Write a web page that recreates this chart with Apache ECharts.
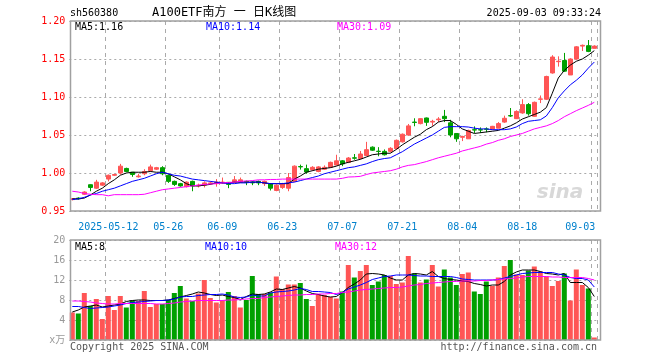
<!DOCTYPE html>
<html><head><meta charset="utf-8">
<script src="https://cdn.jsdelivr.net/npm/echarts@6/dist/echarts.min.js"></script>
<style>html,body{margin:0;padding:0;background:#fff}#c{width:660px;height:360px}</style>
</head><body><div id="c"></div>
<script>
const dates = ['2025-04-29','2025-04-30','2025-05-06','2025-05-07','2025-05-08','2025-05-09',
'2025-05-12','2025-05-13','2025-05-14','2025-05-15','2025-05-16','2025-05-19','2025-05-20','2025-05-21','2025-05-22','2025-05-23',
'2025-05-26','2025-05-27','2025-05-28','2025-05-29','2025-05-30','2025-06-03','2025-06-04','2025-06-05','2025-06-06',
'2025-06-09','2025-06-10','2025-06-11','2025-06-12','2025-06-13','2025-06-16','2025-06-17','2025-06-18','2025-06-19','2025-06-20',
'2025-06-23','2025-06-24','2025-06-25','2025-06-26','2025-06-27','2025-06-30','2025-07-01','2025-07-02','2025-07-03','2025-07-04',
'2025-07-07','2025-07-08','2025-07-09','2025-07-10','2025-07-11','2025-07-14','2025-07-15','2025-07-16','2025-07-17','2025-07-18',
'2025-07-21','2025-07-22','2025-07-23','2025-07-24','2025-07-25','2025-07-28','2025-07-29','2025-07-30','2025-07-31','2025-08-01',
'2025-08-04','2025-08-05','2025-08-06','2025-08-07','2025-08-08','2025-08-11','2025-08-12','2025-08-13','2025-08-14','2025-08-15',
'2025-08-18','2025-08-19','2025-08-20','2025-08-21','2025-08-22','2025-08-25','2025-08-26','2025-08-27','2025-08-28','2025-08-29',
'2025-09-01','2025-09-02','2025-09-03'];
const labelDates = ['2025-05-12','2025-05-26','2025-06-09','2025-06-23','2025-07-07','2025-07-21','2025-08-04','2025-08-18','2025-09-03'];

const opens = [0.965,0.967,0.972,0.9846,0.980,0.984,0.992,0.997,1.000,1.006,
1.001,0.995,0.999,1.003,1.005,1.007,0.997,0.989,0.986,0.982,
0.989,0.983,0.984,0.986,0.986,0.987,0.9877,0.988,0.988,0.989,
0.988,0.989,0.986,0.986,0.977,0.981,0.980,0.989,1.0085,1.0057,
1.0044,1.002,1.005,1.0075,1.0105,1.016,1.014,1.020,1.019,1.023,
1.034,1.0287,1.0285,1.0285,1.032,1.041,1.050,1.067,1.065,1.0724,
1.067,1.070,1.0746,1.066,1.052,1.047,1.045,1.057,1.057,1.058,
1.058,1.059,1.067,1.0755,1.0715,1.079,1.090,1.0746,1.097,1.097,
1.1316,1.1465,1.148,1.129,1.150,1.167,1.1675,1.164];
const closes = [0.966,0.966,0.975,0.981,0.988,0.987,0.997,0.998,1.009,1.002,
0.998,0.996,1.002,1.008,1.007,0.999,0.989,0.985,0.983,0.988,
0.983,0.984,0.987,0.987,0.988,0.988,0.985,0.991,0.991,0.988,
0.987,0.987,0.989,0.980,0.984,0.986,0.994,1.009,1.008,1.0013,
1.0075,1.008,1.0075,1.014,1.016,1.012,1.0197,1.0195,1.025,1.0307,
1.030,1.0283,1.024,1.0325,1.043,1.051,1.062,1.0665,1.0715,1.0667,
1.068,1.071,1.0715,1.050,1.045,1.048,1.056,1.0565,1.0565,1.0575,
1.0614,1.065,1.072,1.075,1.081,1.090,1.078,1.093,1.0975,1.127,
1.1526,1.147,1.134,1.150,1.166,1.168,1.160,1.167];
const lows = [0.964,0.965,0.971,0.976,0.979,0.983,0.989,0.996,0.998,1.001,
0.995,0.994,0.997,1.002,1.004,0.997,0.987,0.983,0.982,0.981,
0.976,0.981,0.981,0.985,0.982,0.986,0.980,0.987,0.987,0.984,
0.984,0.984,0.983,0.977,0.976,0.979,0.976,0.988,1.0045,0.999,
1.003,1.001,1.004,1.007,1.010,1.009,1.013,1.0175,1.018,1.022,
1.029,1.022,1.023,1.027,1.031,1.040,1.049,1.0615,1.064,1.062,
1.062,1.067,1.067,1.047,1.041,1.042,1.045,1.0526,1.0526,1.0535,
1.057,1.059,1.066,1.0737,1.071,1.078,1.0755,1.074,1.092,1.096,
1.1307,1.140,1.133,1.129,1.149,1.1605,1.159,1.164];
const highs = [0.967,0.968,0.976,0.985,0.991,0.988,0.998,0.999,1.012,1.007,
1.001,0.999,1.005,1.011,1.008,1.009,0.998,0.990,0.987,0.989,
0.990,0.986,0.989,0.989,0.992,0.994,0.988,0.996,0.994,0.990,
0.989,0.990,0.990,0.986,0.985,0.987,1.000,1.010,1.011,1.011,
1.009,1.009,1.010,1.015,1.024,1.017,1.021,1.025,1.029,1.041,
1.035,1.034,1.031,1.034,1.044,1.052,1.0645,1.072,1.072,1.073,
1.070,1.0735,1.083,1.070,1.052,1.049,1.057,1.0614,1.060,1.060,
1.062,1.067,1.0755,1.0855,1.0825,1.097,1.092,1.094,1.102,1.128,
1.155,1.1535,1.158,1.151,1.167,1.169,1.175,1.168];

const ma5 = [0.966,0.966,0.967,0.971,0.976,0.980,0.986,0.991,0.997,1.000,
1.001,1.001,1.001,1.002,1.001,1.001,0.999,0.995,0.991,0.986,
0.983,0.983,0.984,0.985,0.987,0.987,0.987,0.988,0.988,0.988,
0.988,0.988,0.987,0.986,0.986,0.986,0.986,0.992,0.996,1.001,
1.003,1.005,1.006,1.007,1.009,1.012,1.014,1.016,1.018,1.021,
1.024,1.025,1.026,1.026,1.031,1.037,1.042,1.047,1.051,1.057,
1.061,1.067,1.069,1.069,1.064,1.058,1.055,1.052,1.053,1.054,
1.055,1.056,1.059,1.062,1.066,1.071,1.074,1.077,1.080,1.086,
1.105,1.125,1.135,1.142,1.147,1.150,1.155,1.161];
const ma10 = [0.965,0.966,0.968,0.971,0.973,0.976,0.978,0.980,0.983,0.986,
0.989,0.991,0.993,0.996,0.999,1.001,0.999,0.997,0.996,0.994,
0.992,0.991,0.990,0.989,0.988,0.987,0.986,0.986,0.987,0.987,
0.988,0.988,0.987,0.986,0.986,0.986,0.987,0.988,0.990,0.992,
0.994,0.996,0.999,1.001,1.003,1.005,1.007,1.008,1.010,1.012,
1.015,1.0175,1.019,1.020,1.024,1.028,1.033,1.038,1.042,1.046,
1.050,1.055,1.060,1.061,1.061,1.061,1.0605,1.059,1.058,1.058,
1.057,1.057,1.057,1.058,1.0605,1.065,1.068,1.069,1.070,1.075,
1.086,1.099,1.108,1.116,1.122,1.129,1.138,1.146];
const ma30 = [0.976,0.975,0.973,0.972,0.9715,0.9715,0.970,0.9715,0.9715,0.9715,
0.9715,0.9715,0.972,0.974,0.976,0.978,0.979,0.980,0.981,0.982,
0.983,0.984,0.985,0.9855,0.986,0.987,0.9875,0.988,0.989,0.9895,
0.990,0.991,0.991,0.9915,0.9915,0.992,0.992,0.992,0.992,0.992,
0.992,0.992,0.992,0.992,0.992,0.993,0.9947,0.995,0.9956,0.998,
1.000,1.001,1.002,1.003,1.005,1.008,1.010,1.011,1.013,1.015,
1.0175,1.020,1.022,1.024,1.026,1.029,1.031,1.033,1.035,1.038,
1.040,1.043,1.045,1.048,1.050,1.052,1.055,1.058,1.060,1.062,
1.065,1.069,1.074,1.078,1.082,1.0855,1.089,1.093];

const volumes = [5.5,5.3,9.4,6.8,8.2,4.2,8.8,6.0,8.8,6.5,
7.9,7.8,9.8,6.6,7.2,7.2,8.0,9.4,10.8,8.3,
7.8,9.3,12.0,8.4,7.5,8.0,9.6,8.8,6.5,8.0,
12.8,9.2,9.2,9.5,12.7,10.2,11.1,11.1,11.4,8.2,
6.8,9.2,9.0,8.6,8.3,9.7,15.0,12.5,13.8,15.0,
11.0,11.7,13.0,12.8,11.2,11.5,16.8,13.3,11.5,12.1,
15.0,10.7,14.1,12.5,11.0,13.2,13.5,9.7,9.2,11.7,
10.8,12.5,14.8,16.0,13.1,13.0,13.9,14.7,13.7,12.7,
10.8,11.8,13.3,7.9,14.1,11.0,10.3,0.5];
const vma5 = [5.6,6.0,6.6,6.8,7.0,6.6,6.8,7.0,7.2,7.7,
7.9,8.0,8.0,7.9,7.9,7.9,8.0,8.3,8.6,8.9,
9.2,9.6,9.4,9.1,8.9,9.0,8.7,8.5,8.1,8.7,
9.2,9.1,9.2,9.6,10.2,10.1,10.4,10.7,10.4,9.8,
9.3,9.1,8.8,8.6,8.7,9.5,10.5,11.2,12.0,13.2,
13.3,13.2,13.0,12.4,12.0,12.0,13.0,13.3,13.2,13.0,
13.7,12.7,12.3,12.1,12.0,11.8,11.7,11.3,11.1,10.8,
11.0,11.0,11.7,13.0,13.6,14.0,14.0,14.0,13.7,13.3,
13.2,13.0,13.3,11.5,11.5,11.5,10.5,8.7];
const vma10 = [6.7,6.7,6.5,6.3,6.4,6.5,6.6,6.8,7.0,7.3,
7.5,7.6,7.7,7.8,7.9,7.9,8.0,8.2,8.6,8.7,
8.7,8.9,9.0,9.1,9.1,9.2,9.0,8.6,8.5,8.6,
9.0,8.8,8.8,9.4,9.6,9.7,9.8,10.0,10.3,10.1,
9.7,9.7,9.6,9.5,9.1,9.5,10.2,10.6,11.0,11.5,
12.1,12.4,12.7,12.8,13.0,13.0,13.0,12.9,12.8,12.8,
12.7,12.7,12.7,12.7,12.5,12.2,12.1,12.0,12.0,12.0,
12.0,12.1,12.4,12.7,13.0,13.3,13.4,13.5,13.5,13.5,
13.5,13.2,13.0,12.5,12.3,12.3,12.0,10.6];
const vma30 = [7.8,7.8,7.7,7.6,7.4,7.3,7.2,7.2,7.3,7.3,
7.3,7.3,7.3,7.3,7.2,7.2,7.3,7.4,7.6,7.7,
7.8,7.9,7.9,7.9,7.9,7.9,8.0,8.0,8.1,8.2,
8.3,8.3,8.5,8.6,8.7,8.8,8.9,9.0,9.0,9.1,
9.1,9.2,9.2,9.3,9.3,9.5,9.6,9.8,10.0,10.1,
10.2,10.3,10.4,10.5,10.5,10.6,10.8,11.0,11.1,11.3,
11.4,11.5,11.6,11.7,11.7,11.8,11.8,11.8,11.9,11.9,
12.0,12.1,12.2,12.3,12.4,12.6,12.7,12.7,12.7,12.7,
12.6,12.6,12.5,12.5,12.5,12.5,12.3,12.0];

const priceTicks = {min: 0.95, max: 1.20, step: 0.05};
const volTicks = {min: 0, max: 20, step: 4};
const legendPrice = ['MA5:1.16', 'MA10:1.14', 'MA30:1.09'];
const legendVol = ['MA5:8', 'MA10:10', 'MA30:12'];

const RED = '#ff5555', GREEN = '#00a000';
const MONO = '"DejaVu Sans Mono", "Liberation Mono", monospace';
const candleData = opens.map((o, i) => [o, closes[i], lows[i], highs[i]]);
const isLabel = (idx, val) => labelDates.indexOf(val) >= 0;

const chart = echarts.init(document.getElementById('c'), null, {renderer: 'canvas'});
const gridL = 69.3, gridW = 528;
function xAxisCommon(gi, showLabels) {
  return {
    type: 'category', gridIndex: gi, data: dates, boundaryGap: true,
    axisLine: {show: false}, axisTick: {show: false},
    axisLabel: {
      show: showLabels, interval: isLabel, color: '#0080cc', fontFamily: MONO, fontSize: 10, margin: 11,
      formatter: v => v === '2025-05-12' ? v : (v === dates[dates.length - 1] ? '{r|' + v.slice(5) + '}' : v.slice(5)),
      rich: {r: {color: '#0080cc', fontFamily: MONO, fontSize: 10, padding: [0, 28, 0, 0]}}
    },
    splitLine: {show: true, interval: isLabel, lineStyle: {color: '#aaaaaa', type: [4, 4], width: 1}}
  };
}
const txt = (x, y, s, color, size, align) => ({type: 'text', x, y, z: 200,
  style: {text: s, fill: color, font: (size || 10) + 'px ' + MONO + ', "Noto Sans CJK SC"', textAlign: align || 'left', textVerticalAlign: 'middle'}});

chart.setOption({
  animation: false,
  backgroundColor: '#fff',
  grid: [
    {left: gridL, width: gridW, top: 21, height: 190},
    {left: gridL, width: gridW, top: 240, height: 100}
  ],
  xAxis: [xAxisCommon(0, true), xAxisCommon(1, false)],
  yAxis: [
    {type: 'value', gridIndex: 0, min: priceTicks.min, max: priceTicks.max, interval: priceTicks.step,
     axisLine: {show: false}, axisTick: {show: false},
     axisLabel: {color: '#ff0000', fontFamily: MONO, fontSize: 10, margin: 4, formatter: v => v.toFixed(2)},
     splitLine: {show: true, lineStyle: {color: '#aaaaaa', type: [2, 3], width: 1}}},
    {type: 'value', gridIndex: 1, min: volTicks.min, max: volTicks.max, interval: volTicks.step,
     axisLine: {show: false}, axisTick: {show: false},
     axisLabel: {color: '#999999', fontFamily: MONO + ', "Noto Sans CJK SC"', fontSize: 10, margin: 4, formatter: v => v === 0 ? 'x万' : String(v)},
     splitLine: {show: true, lineStyle: {color: '#aaaaaa', type: [2, 3], width: 1}}}
  ],
  series: [
    {type: 'candlestick', xAxisIndex: 0, yAxisIndex: 0, data: candleData, barWidth: 5,
     itemStyle: {color: RED, color0: GREEN, borderColor: RED, borderColor0: GREEN, borderWidth: 1}},
    {type: 'line', xAxisIndex: 0, yAxisIndex: 0, data: ma5, symbol: 'none', lineStyle: {color: '#000', width: 1}},
    {type: 'line', xAxisIndex: 0, yAxisIndex: 0, data: ma10, symbol: 'none', lineStyle: {color: '#0000ff', width: 1}},
    {type: 'line', xAxisIndex: 0, yAxisIndex: 0, data: ma30, symbol: 'none', lineStyle: {color: '#ff00ff', width: 1}},
    {type: 'bar', xAxisIndex: 1, yAxisIndex: 1, data: volumes, barWidth: 5,
     itemStyle: {color: p => closes[p.dataIndex] >= opens[p.dataIndex] ? RED : GREEN}},
    {type: 'line', xAxisIndex: 1, yAxisIndex: 1, data: vma5, symbol: 'none', lineStyle: {color: '#000', width: 1}},
    {type: 'line', xAxisIndex: 1, yAxisIndex: 1, data: vma10, symbol: 'none', lineStyle: {color: '#0000ff', width: 1}},
    {type: 'line', xAxisIndex: 1, yAxisIndex: 1, data: vma30, symbol: 'none', lineStyle: {color: '#ff00ff', width: 1}}
  ],
  graphic: [
    {type: 'rect', z: 150, shape: {x: 70.5, y: 21, width: 530, height: 190}, style: {fill: 'none', stroke: '#a0a0a0', lineWidth: 1.5}},
    {type: 'rect', z: 150, shape: {x: 70.5, y: 240, width: 530, height: 100}, style: {fill: 'none', stroke: '#a0a0a0', lineWidth: 1.5}},
    txt(70, 13, 'sh560380', '#000', 10),
    txt(152, 13, 'A100ETF南方 一 日K线图', '#000', 12),
    txt(601, 13, '2025-09-03 09:33:24', '#000', 10, 'right'),
    txt(75, 27, legendPrice[0], '#000', 10),
    txt(206, 27, legendPrice[1], '#0000ff', 10),
    txt(337, 27, legendPrice[2], '#ff00ff', 10),
    txt(75, 247, legendVol[0], '#000', 10),
    txt(205, 247, legendVol[1], '#0000ff', 10),
    txt(335, 247, legendVol[2], '#ff00ff', 10),
    txt(70, 347, 'Copyright 2025 SINA.COM', '#555', 10),
    txt(597, 347, 'http://finance.sina.com.cn', '#555', 10, 'right'),
    {type: 'text', x: 560, y: 193, z: 5, style: {text: 'sina', fill: '#d8d8d8', font: 'italic bold 20px "DejaVu Sans", sans-serif', textAlign: 'center', textVerticalAlign: 'middle'}}
  ]
});
</script></body></html>
